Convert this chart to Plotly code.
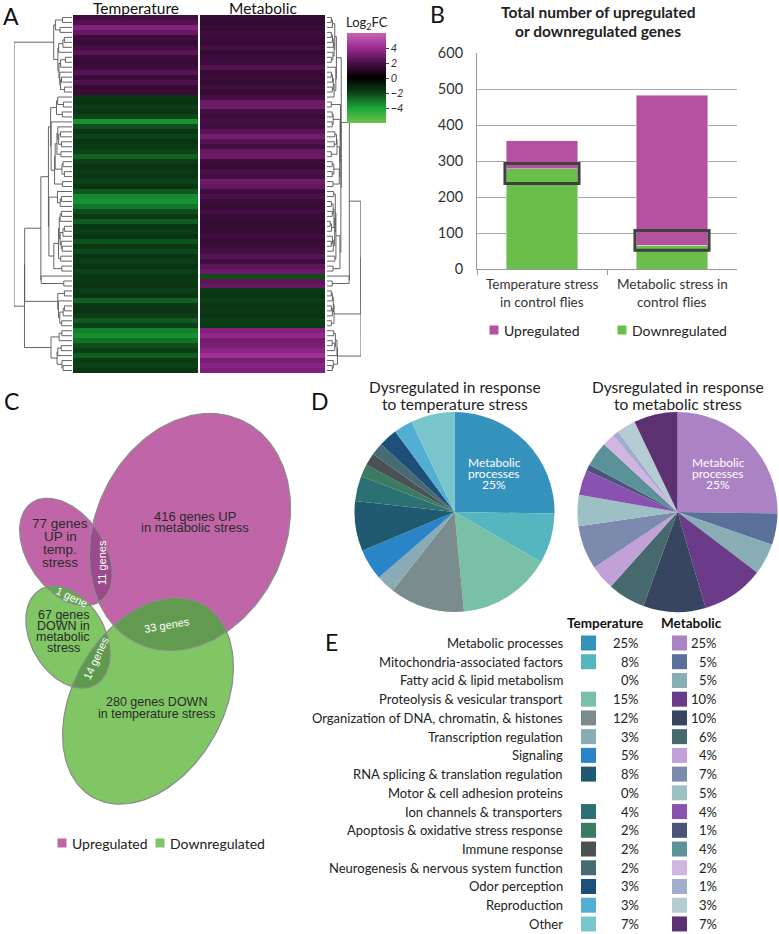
import numpy as np
import plotly.graph_objects as go

W, H = 779, 934
FONT = "Lato"
VFONT = "Liberation Sans"

# ---------------- Panel A : heatmap (log2 fold change, row blocks top -> bottom)
heat_cols = ["Temperature", "Metabolic"]
temp_fc = [1.8, 2.2, 3.4, 2.7, 1.7, 1.5, 1.8, 2.4, 1.6, 1.5, 1.7, 2.3, 1.6, 2.1, 1.5, 1.6,
           -1.6, -1.5, -1.8, -1.6, -2.0, -3.6, -2.2, -1.6, -1.9, -1.5, -1.7, -2.0, -2.6, -1.8,
           -1.5, -1.7, -1.6, -1.9, -1.6, -2.4, -3.4, -3.6, -3.0, -2.2, -1.7, -2.5, -1.6, -1.8,
           -1.5, -2.3, -1.7, -2.1, -1.6, -1.8, -1.5, -1.9, -1.6, -1.7, -1.5, -1.8, -1.6, -2.6,
           -1.7, -1.5, -1.8, -2.4, -1.9, -3.2, -3.5, -2.9, -2.2, -1.8, -2.5, -1.7, -1.9, -1.6]
metab_fc = [1.4, 1.3, 1.5, 1.7, 1.6, 1.5, 1.8, 1.4, 1.6, 1.7, 2.2, 1.5, 1.6, 1.4, 1.7, 1.5,
            1.9, 2.8, 2.9, 1.8, 1.6, 1.9, 1.7, 2.4, 3.0, 2.3, 1.8, 2.7, 2.8, 1.7, 1.5, 2.0,
            1.8, 2.9, 2.6, 1.7, 2.1, 1.6, 1.5, 1.8, 1.6, 1.4, 1.4, 1.5, 1.7, 1.5, 1.6, 1.8,
            2.3, 1.7, 2.5, 2.8, -2.2, 2.5, 2.7, -1.7, -1.6, -1.8, -1.6, -1.7, -1.6, -1.8, -1.7,
            3.4, 3.8, 3.0, 3.2, 3.6, 4.2, 3.1, 3.5, 3.3]
cbar_ticks = [4, 2, 0, -2, -4]

# ---------------- Panel B : stacked bars
bar_categories = ["Temperature stress<br>in control flies", "Metabolic stress in<br>control flies"]
down_counts = [280, 67]
up_counts = [77, 416]
box_low = [238, 53]
box_high = [294, 108]
bar_series = ["Upregulated", "Downregulated"]
bar_title = ["Total number of upregulated", "or downregulated genes"]

# ---------------- Panel C : Venn sets
venn_sets = ["UP metabolic", "UP temp", "DOWN temp", "DOWN metabolic"]
venn_counts = [416, 77, 280, 67]
venn_overlaps = [("UP metabolic", "UP temp", 11), ("UP metabolic", "DOWN temp", 33),
                 ("DOWN metabolic", "DOWN temp", 14), ("UP temp", "DOWN metabolic", 1)]

# ---------------- Panel D/E : functional categories
go_categories = ["Metabolic processes", "Mitochondria-associated factors", "Fatty acid & lipid metabolism",
                 "Proteolysis & vesicular transport", "Organization of DNA, chromatin, & histones",
                 "Transcription regulation", "Signaling", "RNA splicing & translation regulation",
                 "Motor & cell adhesion proteins", "Ion channels & transporters",
                 "Apoptosis & oxidative stress response", "Immune response",
                 "Neurogenesis & nervous system function", "Odor perception", "Reproduction", "Other"]
temp_pct = [25, 8, 0, 15, 12, 3, 5, 8, 0, 4, 2, 2, 2, 3, 3, 7]
metab_pct = [25, 5, 5, 10, 10, 6, 4, 7, 5, 4, 1, 4, 2, 1, 3, 7]
temp_colors = ["#3592bd", "#55b6c0", "#9fc9cf", "#78c0a8", "#7a8c8d", "#88abb6", "#2a84c8", "#1f5a70",
               "#a0c0c8", "#2b7072", "#3b7b63", "#4a5254", "#476b72", "#1e4f78", "#53aed3", "#79c5cc"]
metab_colors = ["#ab82c4", "#5a7099", "#88adb5", "#6b3a88", "#374560", "#45696d", "#c1a1d8", "#7b8aad",
                "#9dc0c5", "#8a52b0", "#4a5479", "#5b9199", "#d0b5e0", "#a1adcc", "#b5cdd2", "#5b3171"]
pie_titles = ["Dysregulated in response<br>to temperature stress",
              "Dysregulated in response<br>to metabolic stress"]

UP_C, DOWN_C = "#b5519f", "#6abf4b"


def fx(px):
    return px / W


def fy(py):
    return 1 - py / H


fig = go.Figure()
ann = []
shapes = []

# ---------------- heatmap
z = [[t, m] for t, m in zip(temp_fc, metab_fc)]
cscale = [[0.0, "#6cc24a"], [1 / 6, "#1aa63a"], [1 / 3, "#0c4418"], [0.5, "#000000"],
          [2 / 3, "#4a0f48"], [5 / 6, "#9b2a92"], [1.0, "#c866b2"]]
fig.add_trace(go.Heatmap(
    z=z, x=[0, 1], y=list(range(len(z))), zmin=-6, zmax=6, colorscale=cscale, xgap=2,
    hoverinfo="skip", xaxis="x", yaxis="y",
    colorbar=dict(x=fx(347), xanchor="left", y=fy(78), yanchor="middle", thickness=39,
                  len=90 / H, lenmode="fraction", outlinewidth=0, xpad=0, ypad=0,
                  tickvals=cbar_ticks, ticks="outside", ticklen=3, tickcolor="#444",
                  tickfont=dict(family=FONT, size=11, color="#333", style="italic"))))
for i, col in enumerate(heat_cols):
    ann.append(dict(x=i, y=8, text=col, showarrow=False, xref="x", yref="y5",
                    font=dict(family=FONT, size=15.5, color="#111")))


def adj_ward(vals, eps):
    clusters = [dict(n=1, mean=np.array(v, float), pos=float(i), h=0.0) for i, v in enumerate(vals)]
    xs, ys = [], []
    while len(clusters) > 1:
        best = None
        for j in range(len(clusters) - 1):
            a, b = clusters[j], clusters[j + 1]
            c = a["n"] * b["n"] / (a["n"] + b["n"]) * float(np.sum((a["mean"] - b["mean"]) ** 2))
            if best is None or c < best[0]:
                best = (c, j)
        c, j = best
        a, b = clusters[j], clusters[j + 1]
        hh = max(np.sqrt(2 * c), a["h"], b["h"]) + eps
        xs += [a["h"], hh, hh, b["h"], None]
        ys += [a["pos"], a["pos"], b["pos"], b["pos"], None]
        n = a["n"] + b["n"]
        clusters[j:j + 2] = [dict(n=n, mean=(a["n"] * a["mean"] + b["n"] * b["mean"]) / n,
                                  pos=(a["pos"] + b["pos"]) / 2, h=hh)]
    return xs, ys, clusters[0]["h"]


lx, ly, lmax = adj_ward(list(zip(temp_fc, metab_fc)), 0.12)
rx, ry, rmax = adj_ward([[m] for m in metab_fc], 0.12)
lx = [None if v is None else v ** 0.5 for v in lx]
rx = [None if v is None else v ** 0.5 for v in rx]
fig.add_trace(go.Scatter(x=lx, y=ly, mode="lines", line=dict(color="#555", width=0.9),
                         xaxis="x2", yaxis="y", hoverinfo="skip", showlegend=False))
fig.add_trace(go.Scatter(x=rx, y=ry, mode="lines", line=dict(color="#555", width=0.9),
                         xaxis="x3", yaxis="y", hoverinfo="skip", showlegend=False))

# ---------------- bars
fig.add_trace(go.Bar(x=bar_categories, y=down_counts, name=bar_series[1], marker_color=DOWN_C,
                     width=0.55, xaxis="x4", yaxis="y4", hoverinfo="skip", showlegend=False))
fig.add_trace(go.Bar(x=bar_categories, y=up_counts, name=bar_series[0], marker_color=UP_C,
                     width=0.55, xaxis="x4", yaxis="y4", hoverinfo="skip", showlegend=False))
for i, (lo, hi) in enumerate(zip(box_low, box_high)):
    shapes.append(dict(type="rect", xref="x4", yref="y4", x0=i - 0.285, x1=i + 0.285, y0=lo, y1=hi,
                       line=dict(color="#404040", width=3), fillcolor="rgba(0,0,0,0)"))
for i, cat in enumerate(bar_categories):
    for k, line in enumerate(cat.split("<br>")):
        ann.append(dict(x=i, y=284 + 18 * k, text=line, showarrow=False, xref="x4", yref="y5",
                        font=dict(family=FONT, size=13.5, color="#333")))
for k, line in enumerate(bar_title):
    ann.append(dict(x=598, y=12 + 19 * k, text=f"<b>{line}</b>", showarrow=False, xref="x5", yref="y5",
                    font=dict(family=FONT, size=15.5, color="#222")))
# bar legend
for name, col, sx in [(bar_series[0], UP_C, 494), (bar_series[1], DOWN_C, 622)]:
    fig.add_trace(go.Scatter(x=[sx], y=[330], mode="markers", marker=dict(symbol="square", size=9, color=col),
                             xaxis="x5", yaxis="y5", hoverinfo="skip", showlegend=False))
    ann.append(dict(x=sx + 8, y=330, text=name, showarrow=False, xanchor="left", xref="x5", yref="y5",
                    font=dict(family=FONT, size=14, color="#222")))

# ---------------- Venn (pixel geometry)
venn_geom = {"UP metabolic": (190, 532, 123, 95, 25, "#c066a8"),
             "UP temp": (66, 552, 60, 38, -35, "#c066a8"),
             "DOWN temp": (148, 701, 111, 75, 30, "#80c664"),
             "DOWN metabolic": (68, 637, 55, 37, -30, "#80c664")}
overlap_colors = ["#9b4a8b", "#629b50", "#5e994c", "#68a454"]


def ell(name, n=240):
    cx, cy, a, b, t, _ = venn_geom[name]
    t = np.radians(t)
    u = np.array([np.sin(t), -np.cos(t)])
    v = np.array([np.cos(t), np.sin(t)])
    s = np.linspace(0, 2 * np.pi, n)
    pts = np.array([cx, cy])[None, :] + np.outer(a * np.cos(s), u) + np.outer(b * np.sin(s), v)
    return pts


def inside(name, pts):
    cx, cy, a, b, t, _ = venn_geom[name]
    t = np.radians(t)
    u = np.array([np.sin(t), -np.cos(t)])
    v = np.array([np.cos(t), np.sin(t)])
    d = pts - np.array([cx, cy])[None, :]
    return (d @ u / a) ** 2 + (d @ v / b) ** 2 <= 1.0


for name in venn_sets:
    p = ell(name)
    fig.add_trace(go.Scatter(x=p[:, 0], y=p[:, 1], fill="toself", fillcolor=venn_geom[name][5],
                             mode="lines", line=dict(width=0), xaxis="x5", yaxis="y5",
                             hoverinfo="skip", showlegend=False))
for (a_, b_, cnt), col in zip(venn_overlaps, overlap_colors):
    pa, pb = ell(a_, 720), ell(b_, 720)
    pts = np.vstack([pa[inside(b_, pa)], pb[inside(a_, pb)]])
    if len(pts) < 3:
        continue
    c = pts.mean(axis=0)
    order = np.argsort(np.arctan2(pts[:, 1] - c[1], pts[:, 0] - c[0]))
    pts = pts[order]
    fig.add_trace(go.Scatter(x=pts[:, 0], y=pts[:, 1], fill="toself", fillcolor=col, mode="lines",
                             line=dict(width=0), xaxis="x5", yaxis="y5", hoverinfo="skip", showlegend=False))
for name in venn_sets:
    p = ell(name)
    fig.add_trace(go.Scatter(x=p[:, 0], y=p[:, 1], mode="lines", line=dict(color="#8a8a8a", width=1.2),
                             xaxis="x5", yaxis="y5", hoverinfo="skip", showlegend=False))

venn_text = [
    ([f"{venn_counts[0]} genes UP", "in metabolic stress"], 195, 516, 11.5, 13),
    ([f"{venn_counts[1]} genes", "UP in", "temp.", "stress"], 60, 523, 13.3, 13.5),
    ([f"{venn_counts[3]} genes", "DOWN in", "metabolic", "stress"], 63, 615, 11, 12.5),
    ([f"{venn_counts[2]} genes DOWN", "in temperature stress"], 156, 702, 11.8, 12.5),
]
for lines, x, y0, dy, fs in venn_text:
    for k, t in enumerate(lines):
        ann.append(dict(x=x, y=y0 + k * dy, text=t, showarrow=False, xref="x5", yref="y5",
                        font=dict(family=VFONT, size=fs, color="#2a2a2a")))
ov_pos = [(102, 563, -90), (167, 625, -10), (96, 658, -65), (72, 597, 25)]
for (a_, b_, cnt), (x, y, ang) in zip(venn_overlaps, ov_pos):
    ann.append(dict(x=x, y=y, text=f"{cnt} gene" + ("s" if cnt != 1 else ""), textangle=ang, showarrow=False,
                    xref="x5", yref="y5", font=dict(family=VFONT, size=11, color="white")))
for name, col, sx in [(bar_series[0], "#c066a8", 62), (bar_series[1], "#80c664", 160)]:
    fig.add_trace(go.Scatter(x=[sx], y=[843], mode="markers", marker=dict(symbol="square", size=9, color=col),
                             xaxis="x5", yaxis="y5", hoverinfo="skip", showlegend=False))
    ann.append(dict(x=sx + 8, y=843, text=name, showarrow=False, xanchor="left", xref="x5", yref="y5",
                    font=dict(family=FONT, size=14, color="#222")))

# ---------------- pies
pie_specs = [(temp_pct, temp_colors, 454.5, 494), (metab_pct, metab_colors, 677.5, 718)]
for (vals, cols, cx, lab_x), title in zip(pie_specs, pie_titles):
    fig.add_trace(go.Pie(values=vals, labels=go_categories, marker=dict(colors=cols, line=dict(width=0)),
                         sort=False, direction="clockwise", rotation=0, textinfo="none",
                         hoverinfo="skip", showlegend=False,
                         domain=dict(x=[fx(cx - 100), fx(cx + 100)], y=[fy(612), fy(412)])))
    for k, line in enumerate(title.split("<br>")):
        ann.append(dict(x=cx, y=387 + 17 * k, text=line, showarrow=False, xref="x5", yref="y5",
                        font=dict(family=FONT, size=15.5, color="#222")))
    for k, line in enumerate(["Metabolic", "processes", f"{vals[0]}%"]):
        ann.append(dict(x=lab_x, y=462 + 11 * k, text=line, showarrow=False, xref="x5", yref="y5",
                        font=dict(family=FONT, size=12, color="white")))

# ---------------- table E
ty0, tdy = 643, 18.73
ann.append(dict(x=605, y=623, text="<b>Temperature</b>", showarrow=False, xref="x5", yref="y5",
                font=dict(family=FONT, size=13.5, color="#111")))
ann.append(dict(x=691, y=623, text="<b>Metabolic</b>", showarrow=False, xref="x5", yref="y5",
                font=dict(family=FONT, size=13.5, color="#111")))
tx, ty, tc, mx, my, mc = [], [], [], [], [], []
for i, cat in enumerate(go_categories):
    y = ty0 + i * tdy
    ann.append(dict(x=565, y=y, text=cat, showarrow=False, xanchor="right", xref="x5", yref="y5",
                    font=dict(family=FONT, size=13, color="#222")))
    ann.append(dict(x=641, y=y, text=f"{temp_pct[i]}%", showarrow=False, xanchor="right", xref="x5",
                    yref="y5", font=dict(family=FONT, size=13, color="#222")))
    ann.append(dict(x=719, y=y, text=f"{metab_pct[i]}%", showarrow=False, xanchor="right", xref="x5",
                    yref="y5", font=dict(family=FONT, size=13, color="#222")))
    if temp_pct[i] > 0:
        tx.append(588.5); ty.append(y); tc.append(temp_colors[i])
    if metab_pct[i] > 0:
        mx.append(679.5); my.append(y); mc.append(metab_colors[i])
fig.add_trace(go.Scatter(x=tx, y=ty, mode="markers", marker=dict(symbol="square", size=15, color=tc),
                         xaxis="x5", yaxis="y5", hoverinfo="skip", showlegend=False))
fig.add_trace(go.Scatter(x=mx, y=my, mode="markers", marker=dict(symbol="square", size=15, color=mc),
                         xaxis="x5", yaxis="y5", hoverinfo="skip", showlegend=False))

# ---------------- panel letters & misc labels
for letter, x, y in [("A", 11, 16), ("B", 437, 14), ("C", 11, 401), ("D", 320, 401), ("E", 331, 642)]:
    ann.append(dict(x=x, y=y, text=letter, showarrow=False, xref="x5", yref="y5",
                    font=dict(family=FONT, size=23, color="#111")))
ann.append(dict(x=367, y=23, text="Log<sub>2</sub>FC", showarrow=False, xref="x5", yref="y5",
                font=dict(family=FONT, size=13, color="#222")))

n_rows = len(temp_fc)
fig.update_layout(
    width=W, height=H, margin=dict(l=0, r=0, t=0, b=0, pad=0, autoexpand=False), paper_bgcolor="white",
    plot_bgcolor="rgba(0,0,0,0)",
    showlegend=False, barmode="stack", annotations=ann, shapes=shapes,
    xaxis=dict(domain=[fx(72), fx(326)], range=[-0.5, 1.5], visible=False, anchor="y"),
    yaxis=dict(domain=[fy(373), fy(15)], range=[n_rows - 0.5, -0.5], visible=False, anchor="x"),
    xaxis2=dict(domain=[fx(14), fx(72)], range=[lmax ** 0.5 * 1.0, 0], visible=False, anchor="y"),
    xaxis3=dict(domain=[fx(327), fx(361)], range=[0, rmax ** 0.5 * 1.0], visible=False, anchor="y"),
    xaxis4=dict(domain=[fx(477), fx(737)], anchor="y4", type="category", tickson="boundaries",
                ticks="outside", ticklen=5, tickcolor="#999", showline=True, linecolor="#999",
                showgrid=False, showticklabels=False),
    yaxis4=dict(domain=[fy(269.3), fy(53.3)], anchor="x4", range=[0, 600], dtick=100, showgrid=True,
                gridcolor="#a8a8a8", showline=True, linecolor="#999", zeroline=False, ticks="",
                ticklabelstandoff=10, tickfont=dict(family=FONT, size=14.5, color="#333")),
    xaxis5=dict(domain=[0, 1], range=[0, W], visible=False, anchor="y5"),
    yaxis5=dict(domain=[0, 1], range=[H, 0], visible=False, anchor="x5"),
)
fig.write_html("out.html", config={"displayModeBar": False},
               post_script="document.body.style.margin='0';document.body.style.overflow='hidden';")
